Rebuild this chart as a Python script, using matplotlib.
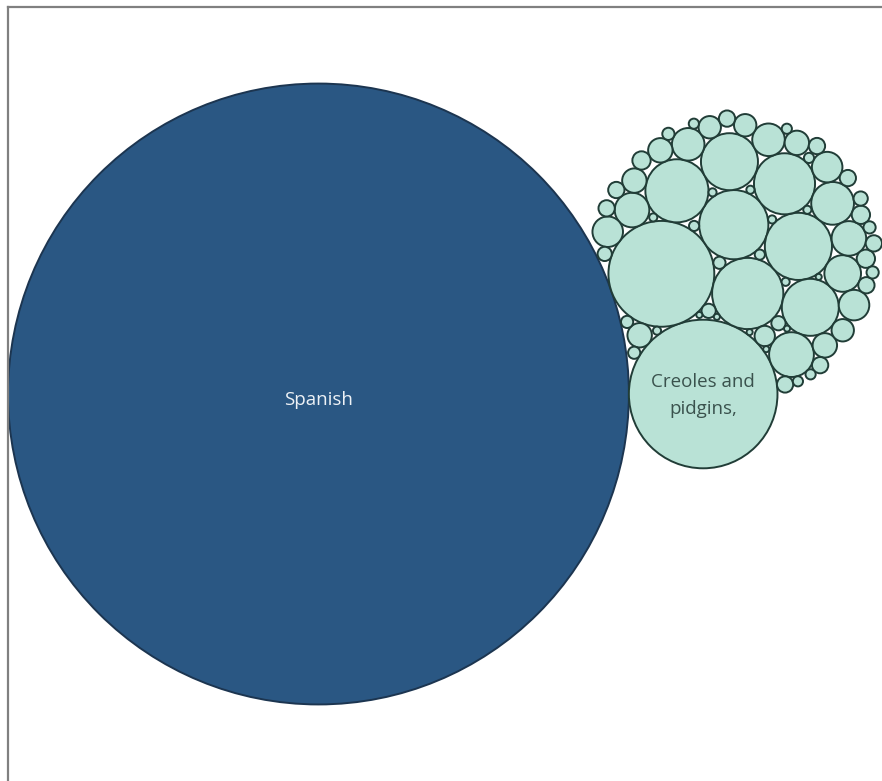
import numpy as np
import matplotlib
matplotlib.use("Agg")
import matplotlib.pyplot as plt
from matplotlib.patches import Circle

# bubbles that carry a label
languages = ["Spanish", "Creoles and\npidgins,"]
language_values = [93025, 5329]

# smaller bubbles, no room for a label
other_values = [2704, 1225, 1156, 1089, 961, 900, 784, 784, 484, 441,
                324, 289, 289, 256, 256, 225, 225, 225,
                144, 144, 144, 144, 144, 121, 121, 121, 100,
                81, 81, 81, 64, 64, 64, 64, 64, 64, 64, 64, 64,
                49, 49, 49, 49, 36, 36, 36, 36, 36, 36,
                25, 25, 25, 25, 25, 25, 25,
                16, 16, 16, 16, 16, 16, 16,
                9, 9, 9, 9, 9, 9]

DARK = "#2a5783"
LIGHT = "#b9e2d6"
EDGE = "#213d37"


def pack(radii, target):
    # greedy packing: each bubble goes to the free tangent spot nearest the target
    n = len(radii)
    pos = np.zeros((n, 2))
    pos[1] = [radii[0] + radii[1], 0.0]
    for i in range(2, n):
        r = radii[i]
        P, R = pos[:i], radii[:i]
        ia, ib = np.triu_indices(i, 1)
        a, b = P[ia], P[ib]
        da, db = R[ia] + r, R[ib] + r
        dv = b - a
        d = np.hypot(dv[:, 0], dv[:, 1])
        ok = (d < da + db) & (d > np.abs(da - db))
        a, dv, d, da, db = a[ok], dv[ok], d[ok], da[ok], db[ok]
        along = (da ** 2 - db ** 2 + d ** 2) / (2 * d)
        h = np.sqrt(np.maximum(da ** 2 - along ** 2, 0))
        u = dv / d[:, None]
        perp = np.column_stack([-u[:, 1], u[:, 0]])
        base = a + along[:, None] * u
        cands = np.vstack([base + h[:, None] * perp, base - h[:, None] * perp])
        dist = np.linalg.norm(cands[:, None, :] - P[None, :, :], axis=2)
        free = np.all(dist >= R[None, :] + r - 1e-6, axis=1)
        cands = cands[free]
        best = np.argmin(np.linalg.norm(cands - target, axis=1))
        pos[i] = cands[best]
    return pos


def main():
    values = np.array(language_values + other_values, dtype=float)
    labels = languages + [""] * len(other_values)
    order = np.argsort(-values, kind="stable")
    values = values[order]
    labels = [labels[k] for k in order]
    radii = np.sqrt(values)

    target = np.array([1.34, 0.44]) * radii[0]
    pos = pack(radii, target)

    fig = plt.figure(figsize=(8.82, 7.81), dpi=100)
    ax = fig.add_axes([8 / 882, 0, 874 / 882, 774 / 781])
    for s in ["right", "bottom"]:
        ax.spines[s].set_visible(False)
    for s in ["left", "top"]:
        ax.spines[s].set_color("#808080")
        ax.spines[s].set_linewidth(1.6)
    ax.set_xticks([])
    ax.set_yticks([])

    for k in range(len(values)):
        fc = DARK if k == 0 else LIGHT
        ec = "#1c3550" if k == 0 else EDGE
        ax.add_patch(Circle(pos[k], radii[k], facecolor=fc, edgecolor=ec, linewidth=1.4))
        if labels[k]:
            tc = "#eef2f6" if k == 0 else "#3a524d"
            ax.text(pos[k][0], pos[k][1] - radii[k] * 0.02, labels[k], ha="center", va="center",
                    fontsize=13.5, color=tc, linespacing=1.65, family=["Open Sans", "DejaVu Sans"])

    # fit the whole packing into the view
    x0 = np.min(pos[:, 0] - radii); x1 = np.max(pos[:, 0] + radii)
    y0 = np.min(pos[:, 1] - radii); y1 = np.max(pos[:, 1] + radii)
    s = min(874 / (x1 - x0), 774 / (y1 - y0))
    cy = (y0 + y1) / 2
    ax.set_xlim(x0, x0 + 874 / s)
    ax.set_ylim(cy - 387 / s, cy + 387 / s)

    fig.savefig("out.png", dpi=100)


if __name__ == "__main__":
    main()
